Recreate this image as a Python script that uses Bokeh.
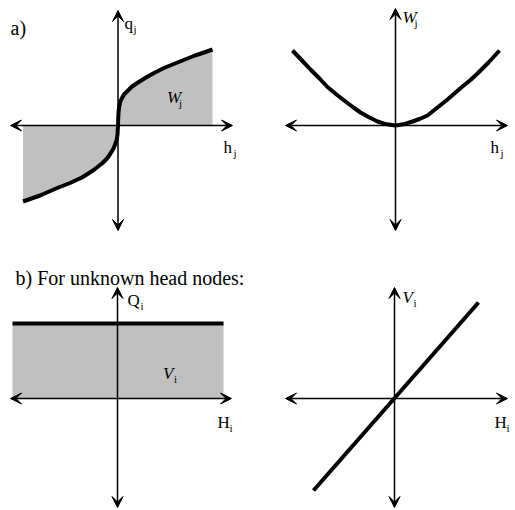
from bokeh.plotting import figure
from bokeh.layouts import column, row
from bokeh.models import Arrow, VeeHead, Label, Range1d
from bokeh.embed import file_html
from bokeh.resources import INLINE

# ---- data (units: 1 unit = 100 px on screen) ----
# a) pipe flow q_j vs head difference h_j
h_a = [-0.95, -0.78, -0.62, -0.48, -0.36, -0.25, -0.16, -0.11, -0.075, -0.045,
       -0.025, -0.012, -0.005, 0.0, 0.003, 0.007, 0.014, 0.024, 0.037, 0.06,
       0.10, 0.14, 0.20, 0.28, 0.37, 0.47, 0.57, 0.67, 0.77, 0.86, 0.945]
q_a = [-0.76, -0.70, -0.63, -0.575, -0.52, -0.45, -0.38, -0.33, -0.28, -0.23,
       -0.18, -0.14, -0.09, 0.0, 0.09, 0.15, 0.20, 0.24, 0.27, 0.31,
       0.35, 0.39, 0.43, 0.48, 0.53, 0.58, 0.62, 0.66, 0.70, 0.73, 0.76]
# a) content W_j vs h_j
h_w = [-1.03, -0.93, -0.85, -0.76, -0.68, -0.59, -0.50, -0.42, -0.35, -0.26,
       -0.18, -0.09, 0.0, 0.08, 0.17, 0.24, 0.32, 0.42, 0.52, 0.60, 0.67,
       0.75, 0.82, 0.93, 1.04]
w_w = [0.75, 0.645, 0.56, 0.47, 0.385, 0.31, 0.24, 0.18, 0.13, 0.08,
       0.04, 0.012, 0.0, 0.012, 0.04, 0.065, 0.10, 0.18, 0.26, 0.33, 0.39,
       0.455, 0.52, 0.63, 0.75]
# b) unknown head nodes: constant Q_i, linear V_i
H_q = [-1.05, 1.06]
Q_q = [0.75, 0.75]
H_v = [-0.81, 0.84]
V_v = [-0.92, 0.96]

S = 100.0
FONT = "Liberation Serif"
GREY = "#c0c0c0"
SUB_DX = {"q": 9, "h": 10, "W": 12, "Q": 13, "H": 12, "V": 11}


def panel(w, h, ox, oy):
    """Blank panel of w x h px whose origin sits at (ox, oy) px from its top-left."""
    p = figure(width=w, height=h, output_backend="svg", toolbar_location=None,
               x_axis_location=None, y_axis_location=None,
               x_range=Range1d(-ox / S, (w - ox) / S),
               y_range=Range1d(-(h - oy) / S, oy / S),
               min_border=0, outline_line_color=None, tools="")
    p.xgrid.visible = False
    p.ygrid.visible = False
    p.background_fill_color = "white"
    return p


def axes(p, xl, xr, yt, yb):
    for (x0, y0, x1, y1) in [(xl, 0, xr, 0), (0, yb, 0, yt)]:
        p.add_layout(Arrow(x_start=x0, y_start=y0, x_end=x1, y_end=y1,
                           line_width=1.5, line_color="black",
                           start=VeeHead(size=11, fill_color="black", line_color="black", line_width=1),
                           end=VeeHead(size=11, fill_color="black", line_color="black", line_width=1)))


def sym(p, x, y, main, sub, italic=False, size=17):
    p.add_layout(Label(x=x, y=y, text=main, text_font=FONT, text_font_size=f"{size}px",
                       text_font_style="italic" if italic else "normal",
                       text_color="black", text_baseline="alphabetic"))
    p.add_layout(Label(x=x + SUB_DX[main] / S, y=y - 0.05, text=sub, text_font=FONT,
                       text_font_size="11px", text_color="black", text_baseline="alphabetic"))


# a) left: q_j(h_j) with shaded area W_j
pa1 = panel(260, 240, 117.5, 125)
pa1.varea(x=h_a, y1=[0] * len(h_a), y2=q_a, fill_color=GREY)
axes(pa1, -1.075, 1.145, 1.15, -1.05)
pa1.line(h_a, q_a, line_width=4, line_color="black", line_join="round", line_cap="butt")
pa1.add_layout(Label(x=-1.075, y=0.98, text="a)", text_font=FONT, text_font_size="20px",
                     text_color="black", text_baseline="alphabetic"))
sym(pa1, 0.065, 1.02, "q", "j")
sym(pa1, 0.49, 0.28, "W", "j", italic=True)
sym(pa1, 1.055, -0.22, "h", "j")

# a) right: W_j(h_j)
pa2 = panel(255, 240, 135, 125)
axes(pa2, -1.10, 1.12, 1.17, -1.05)
pa2.line(h_w, w_w, line_width=4, line_color="black", line_join="round")
sym(pa2, 0.07, 1.08, "W", "j", italic=True)
sym(pa2, 0.95, -0.22, "h", "j")

# b) left: constant Q_i with shaded area V_i
pb1 = panel(260, 270, 117, 158)
pb1.varea(x=H_q, y1=[0, 0], y2=Q_q, fill_color=GREY)
axes(pb1, -1.07, 1.14, 1.11, -1.09)
pb1.line(H_q, Q_q, line_width=4, line_color="black")
pb1.add_layout(Label(x=-1.02, y=1.21, text="b) For unknown head nodes:", text_font=FONT,
                     text_font_size="20px", text_color="black", text_baseline="alphabetic"))
sym(pb1, 0.10, 0.98, "Q", "i")
sym(pb1, 0.455, 0.25, "V", "i", italic=True)
sym(pb1, 1.0, -0.24, "H", "i")

# b) right: linear V_i(H_i)
pb2 = panel(255, 270, 134, 158)
axes(pb2, -1.09, 1.13, 1.11, -1.09)
pb2.line(H_v, V_v, line_width=4, line_color="black")
sym(pb2, 0.08, 1.01, "V", "i", italic=True)
sym(pb2, 1.0, -0.24, "H", "i")

layout = column(row(pa1, pa2, spacing=0), row(pb1, pb2, spacing=0), spacing=0)
open("out.html", "w").write(file_html(layout, INLINE))
